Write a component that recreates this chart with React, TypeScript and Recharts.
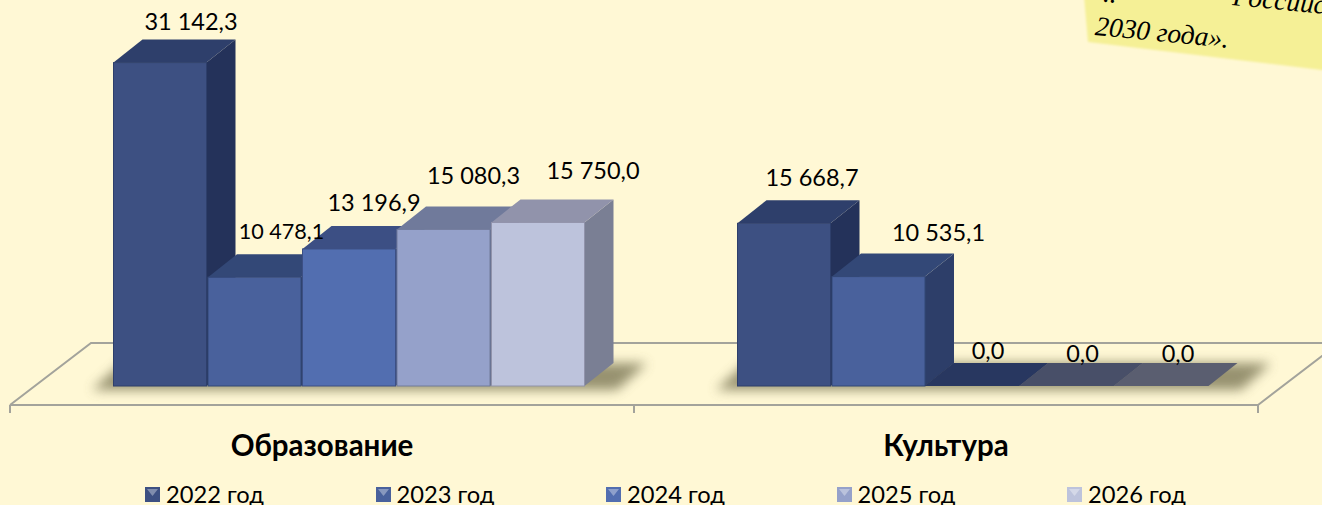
import React from "react";
import { BarChart, Bar, XAxis, YAxis, Legend, LabelList, usePlotArea } from "recharts";

const categories = ["Образование", "Культура"];
const years = ["2022 год", "2023 год", "2024 год", "2025 год", "2026 год"];
const y2022 = [31142.3, 15668.7];
const y2023 = [10478.1, 10535.1];
const y2024 = [13196.9, 0];
const y2025 = [15080.3, 0];
const y2026 = [15750.0, 0];

const chartData = categories.map((name, i) => ({
  name,
  [years[0]]: y2022[i],
  [years[1]]: y2023[i],
  [years[2]]: y2024[i],
  [years[3]]: y2025[i],
  [years[4]]: y2026[i],
}));

// front, top, side, and the colour of a bar with zero height
const palette = [
  { front: "#3d5082", top: "#2e3f6b", side: "#24325a", flat: "#24325a" },
  { front: "#49619c", top: "#334877", side: "#2d3e69", flat: "#2d3e69" },
  { front: "#526eb0", top: "#3c4f84", side: "#33467a", flat: "#283760" },
  { front: "#95a1ca", top: "#707a9b", side: "#636c8a", flat: "#484f68" },
  { front: "#bdc3dc", top: "#9193ab", side: "#7a7f94", flat: "#5a5e70" },
];

// the labels were moved by hand in the original, so each one has its own offset
// [dx, dy, fontSize?]
const labelOffsets = [
  [[31, -42], [28, -46]],
  [[27, -46, 21.6], [60, -45]],
  [[25, -47], [15, -36]],
  [[30, -54], [15, -33.5]],
  [[55, -52], [16, -33.5]],
];

const FONT = "Lato, sans-serif";
const BG = "#fff8d5";
const W = 1322;
const H = 505;

// fake 3D: bars stand part way back on the floor
const SHIFT_X = 26.5;
const SHIFT_Y = -19;
const DEPTH_X = 29;
const DEPTH_Y = -23;
const FLOOR_X = 81;
const FLOOR_Y = -62;

const fmt = (v: number) => {
  const [a, b] = v.toFixed(1).split(".");
  return `${a.replace(/\B(?=(\d{3})+$)/g, " ")},${b}`;
};

function Box3D(props: any) {
  const { x, y, width, height, colors } = props;
  const left = x + SHIFT_X;
  const right = left + width;
  const top = y + SHIFT_Y;
  const bottom = top + height;
  if (height < 1) {
    return (
      <polygon
        points={`${left - 2},${bottom} ${right},${bottom} ${right + DEPTH_X},${bottom + DEPTH_Y} ${left + DEPTH_X - 2},${bottom + DEPTH_Y}`}
        fill={colors.flat}
      />
    );
  }
  return (
    <g>
      <polygon
        points={`${right},${top} ${right + DEPTH_X},${top + DEPTH_Y} ${right + DEPTH_X},${bottom + DEPTH_Y} ${right},${bottom}`}
        fill={colors.side}
      />
      <polygon
        points={`${left},${top} ${left + DEPTH_X},${top + DEPTH_Y} ${right + DEPTH_X},${top + DEPTH_Y} ${right},${top}`}
        fill={colors.top}
      />
      <rect x={left} y={top} width={width} height={height} fill={colors.front} stroke={colors.top} strokeWidth={1} />
    </g>
  );
}

function Floor() {
  const plot = usePlotArea();
  if (!plot) return null;
  const band = plot.width / categories.length;
  const x0 = plot.x;
  const x1 = plot.x + plot.width;
  const y0 = plot.y + plot.height;
  return (
    <g>
      <defs>
        <filter id="floorShadow" x="-10%" y="-50%" width="120%" height="200%">
          <feGaussianBlur stdDeviation="6" />
        </filter>
      </defs>
      <polyline
        points={`${x0},${y0} ${x0 + FLOOR_X},${y0 + FLOOR_Y} ${x1 + FLOOR_X},${y0 + FLOOR_Y} ${x1},${y0}`}
        fill="none"
        stroke="#a3a39b"
        strokeWidth={2}
      />
      {[0, 1, 2].map((i) => (
        <line key={i} x1={x0 + band * i} x2={x0 + band * i} y1={y0} y2={y0 + 8} stroke="#a3a39b" strokeWidth={2} />
      ))}
      {categories.map((c, i) => {
        const l = x0 + band * i + 82;
        const r = l + 525;
        return (
          <polygon
            key={c}
            points={`${l},${y0 - 15} ${r},${y0 - 15} ${r + 30},${y0 - 42} ${l + 30},${y0 - 42}`}
            fill="#7d7857"
            opacity={0.8}
            filter="url(#floorShadow)"
          />
        );
      })}
    </g>
  );
}

function StickyNote() {
  return (
    <g>
      <defs>
        <filter id="noteEdge" x="-5%" y="-10%" width="110%" height="120%">
          <feGaussianBlur stdDeviation="1.2" />
        </filter>
      </defs>
      <polygon points="1084,-4 1088,42 1330,71 1330,-4" fill="#f5f096" filter="url(#noteEdge)" />
      <g transform="rotate(5.5 1095 30)" fontFamily="'Liberation Serif', serif" fontStyle="italic" fill="#000">
        <text x={1095} y={35} fontSize={27.5}>2030 года».</text>
        <text x={1100} y={1} fontSize={27.5}>..</text>
        <text x={1229} y={-8} fontSize={27.5}>Российс</text>
      </g>
    </g>
  );
}

function LegendIcon({ color }: { color: string }) {
  return (
    <svg width={15} height={15} style={{ marginRight: 6, flex: "none" }}>
      <rect width={15} height={15} fill={color} />
      <polygon points="2,2 13,2 7.5,9" fill="#ffffff" opacity={0.35} />
    </svg>
  );
}

function LegendRow({ payload }: any) {
  return (
    <div style={{ display: "flex" }}>
      {(payload || []).map((p: any) => (
        <div
          key={p.value}
          style={{ width: 230.5, display: "flex", alignItems: "center", fontFamily: FONT, fontSize: 23.7, color: "#000", lineHeight: "20px" }}
        >
          <LegendIcon color={p.color} />
          <span>{p.value}</span>
        </div>
      ))}
    </div>
  );
}

function BarLabel(props: any) {
  const { x, y, width, value, index, series } = props;
  const [dx, dy, size] = labelOffsets[series][index];
  return (
    <text
      x={x + SHIFT_X + width / 2 + dx}
      y={y + SHIFT_Y + dy}
      textAnchor="middle"
      dominantBaseline="central"
      fontFamily={FONT}
      fontSize={size ?? 23.5}
      fill="#000"
    >
      {fmt(Number(value))}
    </text>
  );
}

export default function App() {
  return (
    <div style={{ position: "fixed", left: 0, top: 0, width: W, height: H, background: BG, overflow: "hidden" }}>
      <BarChart
        width={W}
        height={H}
        data={chartData}
        margin={{ top: 0, right: 64, bottom: 0, left: 10 }}
        barSize={93}
        barGap={1.5}
      >
        <Floor />
        <XAxis
          dataKey="name"
          axisLine={{ stroke: "#a3a39b", strokeWidth: 2 }}
          tickLine={false}
          interval={0}
          height={80}
          tick={{ fontFamily: FONT, fontSize: 29.5, fontWeight: 700, fill: "#000", dy: 22 }}
        />
        <YAxis hide domain={[0, 39000]} />
        <Legend
          verticalAlign="bottom"
          content={<LegendRow />}
          wrapperStyle={{ position: "absolute", left: 145, top: 484, width: 1170, bottom: "auto" }}
        />
        {years.map((year, s) => (
          <Bar
            key={year}
            dataKey={year}
            fill={palette[s].front}
            isAnimationActive={false}
            shape={(p: any) => <Box3D {...p} colors={palette[s]} />}
          >
            <LabelList dataKey={year} content={(p: any) => <BarLabel {...p} series={s} />} />
          </Bar>
        ))}
        <StickyNote />
      </BarChart>
    </div>
  );
}
